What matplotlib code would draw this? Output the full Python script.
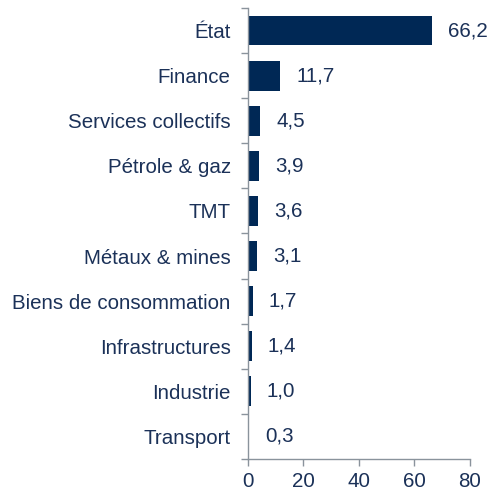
import matplotlib.pyplot as plt
import numpy as np

plt.rcParams['font.family'] = ['Liberation Sans', 'DejaVu Sans']

categories = ['État', 'Finance', 'Services collectifs', 'Pétrole & gaz', 'TMT',
              'Métaux & mines', 'Biens de consommation', 'Infrastructures',
              'Industrie', 'Transport']
values = [66.2, 11.7, 4.5, 3.9, 3.6, 3.1, 1.7, 1.4, 1.0, 0.3]
xticks = [0, 20, 40, 60, 80]

navy = '#002855'
text_col = '#1b3158'
axis_col = '#8a939c'
fs = 14.8

fig = plt.figure(figsize=(4.89, 4.90), dpi=100)
ax = fig.add_axes([248 / 489, 31 / 490, 222 / 489, 451 / 490])

y = np.arange(len(categories))
ax.barh(y, values, height=0.66, color=navy)
ax.set_ylim(len(categories) - 0.5, -0.5)
ax.set_xlim(0, 80)

for yi, v in zip(y, values):
    ax.text(v + 5.8, yi, f'{v:.1f}'.replace('.', ','), va='center', ha='left',
            fontsize=fs, color=text_col)

ax.set_yticks(y)
ax.set_yticklabels(categories, fontsize=fs, color=text_col)
ax.set_yticks(np.arange(len(categories) + 1) - 0.5, minor=True)
ax.tick_params(axis='y', which='major', length=0, pad=12.5)
ax.tick_params(axis='y', which='minor', length=5, color=axis_col, width=1)

ax.set_xticks(xticks)
ax.set_xticklabels([str(t) for t in xticks], fontsize=fs, color=text_col)
ax.tick_params(axis='x', length=5, color=axis_col, width=1, pad=4)

for s in ['top', 'right']:
    ax.spines[s].set_visible(False)
for s in ['left', 'bottom']:
    ax.spines[s].set_color(axis_col)
    ax.spines[s].set_linewidth(1)

fig.savefig('out.png', dpi=100)
